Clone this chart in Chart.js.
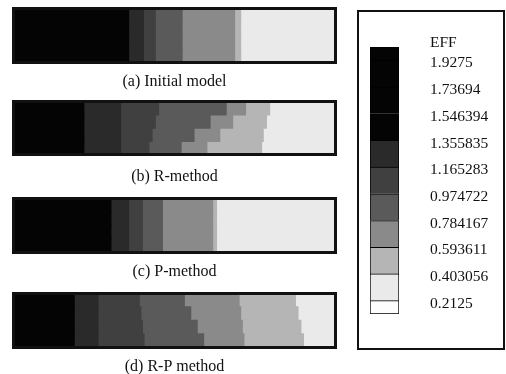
<!DOCTYPE html>
<html>
<head>
<meta charset="utf-8">
<script src="https://cdn.jsdelivr.net/npm/chart.js@4.4.0/dist/chart.umd.min.js"></script>
<style>
  body { margin: 0; background: #fff; width: 506px; height: 374px; overflow: hidden; position: relative; }
  canvas { position: absolute; }
  #legendBox { position: absolute; left: 357px; top: 10px; width: 148px; height: 340px; box-sizing: border-box; border: 2px solid #111; }
  #legendBox canvas { left: 0; top: 0; }
  #eff { position: absolute; left: 71px; top: 21px; font: 15.5px "Liberation Serif", serif; color: #111; line-height: 18px; }
</style>
</head>
<body>
<canvas id="p0" width="350" height="92" style="left:0;top:0"></canvas>
<canvas id="p1" width="350" height="92" style="left:0;top:93px"></canvas>
<canvas id="p2" width="350" height="92" style="left:0;top:190px"></canvas>
<canvas id="p3" width="350" height="92" style="left:0;top:285px"></canvas>
<div id="legendBox">
  <canvas id="legend" width="144" height="336"></canvas>
  <div id="eff">EFF</div>
</div>
<script>
// contour levels of EFF, top of the colour bar first
const levels = ['1.9275', '1.73694', '1.546394', '1.355835', '1.165283', '0.974722', '0.784167', '0.593611', '0.403056', '0.2125'];
// height of each band in the colour bar (band 0 = above 1.9275 ... band 10 = below 0.2125)
const bandSpan = [0.5, 1, 1, 1, 1, 1, 1, 1, 1, 1, 0.5];

const captions = ['(a) Initial model', '(b) R-method', '(c) P-method', '(d) R-P method'];
const rows = ['r1', 'r2', 'r3', 'r4'];

// where the contour lines 1.355835 ... 0.2125 cross each row (% of model length), top row first
const crossA = [
  [35.7, 40.3, 44, 52.3, 68.6, 70.5, 100],
  [35.7, 40.3, 44, 52.3, 68.6, 70.5, 100],
  [35.7, 40.3, 44, 52.3, 68.6, 70.5, 100],
  [35.7, 40.3, 44, 52.3, 68.6, 70.5, 100]
];
const crossB = [
  [21.8, 33.2, 45, 66, 72, 79.5, 100],
  [21.8, 33.2, 44, 61, 68, 78.5, 100],
  [21.8, 33.2, 43, 56, 64, 77.5, 100],
  [21.8, 33.2, 42, 52, 60, 77, 100]
];
const crossC = [
  [30.2, 35.7, 40, 46.2, 61.8, 63, 100],
  [30.2, 35.7, 40, 46.2, 61.8, 63, 100],
  [30.2, 35.7, 40, 46.2, 61.8, 63, 100],
  [30.2, 35.7, 40, 46.2, 61.8, 63, 100]
];
const crossD = [
  [18.8, 26.2, 39, 53, 70, 87.5, 100],
  [18.8, 26.2, 39.5, 55, 70.5, 88.3, 100],
  [18.8, 26.2, 40, 57, 71, 89.2, 100],
  [18.8, 26.2, 40.5, 59, 71.5, 90, 100]
];
const panels = [crossA, crossB, crossC, crossD];

// grey shade of each band, band 0 (highest) to band 10 (lowest)
const shades = ['#040404', '#040404', '#040404', '#040404', '#2a2a2a', '#404040', '#5a5a5a', '#8a8a8a', '#b5b5b5', '#eaeaea', '#fdfdfd'];

const serif = '"Liberation Serif", "Times New Roman", serif';

const framePlugin = {
  id: 'frame',
  afterDatasetsDraw(chart) {
    const a = chart.chartArea;
    const c = chart.ctx;
    c.save();
    c.lineWidth = 3;
    c.strokeStyle = '#111';
    c.strokeRect(a.left, a.top, a.right - a.left, a.bottom - a.top);
    c.restore();
  }
};

function bandDatasets(cross) {
  // band 3 (black, everything above 1.355835) up to band 10
  const sets = [];
  for (let k = 0; k <= 7; k++) {
    const data = cross.map(function (c) {
      const start = k === 0 ? 0 : c[k - 1];
      const end = k === 7 ? 100 : c[k];
      return Math.max(0, end - start);
    });
    sets.push({
      label: 'band' + (k + 3),
      data: data,
      backgroundColor: shades[k + 3],
      borderWidth: 0,
      inflateAmount: 0.7
    });
  }
  return sets;
}

panels.forEach(function (cross, i) {
  // caption (b) sits a little lower under its frame
  const extra = i === 1 ? 3 : 0;
  new Chart(document.getElementById('p' + i), {
    type: 'bar',
    data: { labels: rows, datasets: bandDatasets(cross) },
    options: {
      indexAxis: 'y',
      responsive: false,
      animation: false,
      barPercentage: 1,
      categoryPercentage: 1,
      layout: { padding: { left: 13.5, right: 14.5, top: 8.5, bottom: 1 - extra + (i === 1 ? 1 : 0) } },
      scales: {
        x: { type: 'linear', min: 0, max: 100, stacked: true, display: false },
        y: { stacked: true, display: false }
      },
      plugins: {
        legend: { display: false },
        tooltip: { enabled: false },
        title: {
          display: true,
          text: captions[i],
          position: 'bottom',
          color: '#111',
          font: { family: serif, size: 16, weight: 'normal', lineHeight: 1.2 },
          padding: { top: 9.3 + extra, bottom: 0 }
        }
      }
    },
    plugins: [framePlugin]
  });
});

// colour bar: lowest band at the bottom of the stack
const legendSets = [];
for (let b = 10; b >= 0; b--) {
  legendSets.push({
    label: 'band' + b,
    data: [bandSpan[b]],
    backgroundColor: shades[b],
    borderColor: '#000',
    borderWidth: 1,
    borderSkipped: b === 10 ? false : 'start'
  });
}

new Chart(document.getElementById('legend'), {
  type: 'bar',
  data: { labels: ['EFF'], datasets: legendSets },
  options: {
    responsive: false,
    animation: false,
    barPercentage: 1,
    categoryPercentage: 1,
    layout: { padding: { left: 11, top: 35, bottom: 34, right: 0 } },
    scales: {
      x: { stacked: true, display: false },
      y: {
        type: 'linear',
        position: 'right',
        stacked: true,
        min: 0,
        max: 10,
        grid: { display: false },
        border: { display: false },
        afterBuildTicks: function (axis) {
          axis.ticks = levels.map(function (l, i) { return { value: 9.5 - i }; });
        },
        afterFit: function (axis) { axis.width = 104; },
        ticks: {
          autoSkip: false,
          padding: 23,
          labelOffset: 3,
          color: '#111',
          font: { family: serif, size: 15.5 },
          callback: function (value) { return levels[Math.round(9.5 - value)]; }
        }
      }
    },
    plugins: { legend: { display: false }, tooltip: { enabled: false } }
  }
});
</script>
</body>
</html>
